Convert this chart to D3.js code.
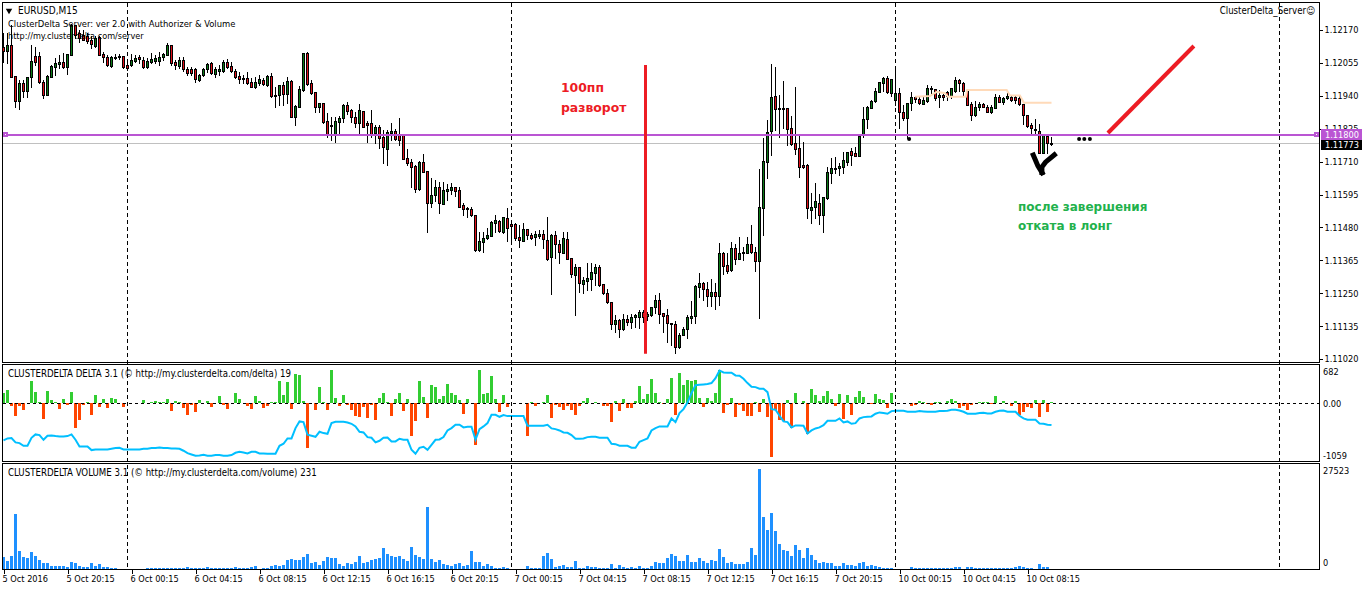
<!DOCTYPE html>
<html><head><meta charset="utf-8">
<script src="https://cdn.jsdelivr.net/npm/d3@7/dist/d3.min.js"></script>
<style>html,body{margin:0;padding:0;background:#fff;overflow:hidden}svg{display:block}text{font-family:"DejaVu Sans Condensed","DejaVu Sans",sans-serif}</style>
</head><body><svg id="c" width="1362" height="590"></svg>
<script>
// Prices are stored in points (1e-5)
const opens=[112111,112097,112118,112009,111922,111985,111957,112006,112079,112079,
111988,111943,112006,112041,112051,112058,112041,112083,112188,112160,
112153,112149,112135,112114,112146,112086,112076,112044,112072,112076,
112079,112048,112048,112062,112076,112065,112041,112058,112062,112062,
112076,112083,112118,112058,112044,112065,112034,112034,112034,111995,
112013,112034,112055,112016,112027,112027,112058,112044,112027,112009,
112002,112002,111988,111971,111985,111995,111978,112009,111943,111943,
111978,111946,111992,111866,111901,111960,112090,111985,111953,111901,
111915,111852,111835,111807,111849,111863,111908,111891,111866,111845,
111887,111845,111845,111810,111831,111796,111754,111810,111817,111803,
111803,111723,111709,111695,111614,111709,111677,111565,111593,111621,
111562,111607,111611,111621,111611,111558,111548,111544,111523,111401,
111429,111443,111450,111495,111502,111464,111513,111492,111492,111446,
111432,111474,111453,111446,111450,111457,111436,111376,111453,111422,
111390,111439,111373,111313,111341,111282,111292,111299,111320,111341,
111282,111250,111219,111143,111157,111125,111159,111150,111166,111166,
111184,111170,111173,111201,111226,111180,111173,111146,111143,111062,
111104,111125,111163,111170,111271,111285,111264,111240,111254,111240,
111390,111348,111331,111408,111369,111390,111390,111422,111394,111362,
111548,111709,111817,111939,111894,111898,111898,111828,111775,111758,
111698,111698,111541,111551,111565,111523,111583,111670,111688,111688,
111691,111709,111747,111740,111730,111807,111859,111898,111922,111953,
111985,112002,111950,111926,111950,111884,111863,111915,111936,111929,
111912,111922,111967,111964,111936,111943,111953,111939,111957,111995,
111985,111957,111912,111873,111901,111912,111901,111884,111898,111936,
111919,111932,111936,111936,111932,111912,111873,111838,111824,111817,
111740,111800,111775];
const closes=[112097,112118,112006,111922,111985,111957,112006,112062,112058,111988,
111943,112009,112044,112055,112058,112041,112086,112188,112153,112142,
112135,112132,112121,112142,112083,112076,112048,112076,112076,112079,
112041,112037,112065,112072,112069,112041,112062,112069,112072,112076,
112086,112118,112055,112048,112065,112034,112020,112020,111999,112013,
112034,112051,112020,112034,112034,112058,112041,112027,112006,111999,
111999,111985,111971,111988,111999,111981,112009,111939,111939,111978,
111946,111992,111866,111905,111964,112090,111981,111950,111901,111915,
111849,111803,111838,111852,111863,111908,111887,111866,111845,111891,
111831,111838,111807,111831,111793,111761,111814,111817,111789,111786,
111719,111705,111691,111614,111709,111674,111565,111593,111621,111565,
111611,111614,111621,111607,111551,111544,111544,111523,111401,111432,
111443,111453,111499,111506,111467,111516,111478,111485,111443,111436,
111474,111453,111443,111457,111457,111439,111369,111453,111422,111394,
111443,111369,111317,111341,111285,111296,111303,111324,111341,111278,
111250,111219,111143,111157,111125,111159,111150,111166,111173,111184,
111166,111177,111201,111226,111177,111170,111146,111143,111062,111104,
111125,111166,111170,111275,111285,111264,111240,111254,111240,111390,
111345,111327,111408,111369,111390,111394,111422,111394,111362,111551,
111712,111814,111936,111894,111898,111894,111824,111772,111754,111691,
111691,111548,111551,111572,111523,111586,111674,111688,111684,111695,
111716,111744,111733,111730,111800,111859,111901,111922,111957,111988,
112002,111953,111999,111950,111884,111863,111915,111936,111929,111915,
111926,111967,111964,111932,111943,111936,111939,111967,111995,111985,
111957,111908,111873,111901,111912,111901,111884,111901,111936,111919,
111932,111939,111926,111926,111912,111873,111835,111828,111821,111740,
111803,111775,111772];
const highs=[112160,112160,112188,112009,111995,111995,112006,112118,112111,112093,
111995,112013,112048,112072,112083,112090,112086,112191,112188,112170,
112170,112160,112149,112149,112149,112093,112083,112079,112086,112086,
112079,112055,112086,112083,112083,112076,112072,112090,112083,112093,
112090,112125,112118,112065,112076,112076,112041,112041,112037,112016,
112037,112055,112058,112041,112048,112065,112069,112058,112034,112023,
112013,112023,112002,112006,112013,112002,112013,112020,111971,111978,
111988,112006,111995,111908,111974,112090,112093,111995,111953,111915,
111915,111880,111866,111866,111870,111912,111919,111894,111884,111912,
111887,111852,111891,111838,111838,111821,111821,111845,111824,111863,
111803,111754,111719,111698,111712,111737,111677,111653,111646,111639,
111639,111632,111635,111621,111621,111565,111551,111551,111523,111464,
111464,111478,111502,111523,111506,111516,111548,111506,111495,111488,
111495,111474,111460,111467,111471,111471,111516,111457,111467,111436,
111464,111464,111373,111352,111341,111306,111355,111355,111352,111348,
111282,111264,111219,111173,111159,111177,111173,111177,111177,111191,
111191,111184,111201,111243,111250,111180,111194,111146,111153,111111,
111132,111173,111222,111278,111320,111289,111289,111299,111285,111425,
111394,111390,111429,111422,111446,111411,111446,111488,111411,111684,
111793,111856,112051,112041,111943,111992,111898,111870,111971,111800,
111779,111702,111600,111635,111597,111586,111691,111723,111726,111705,
111744,111744,111758,111761,111803,111901,111905,111926,111967,111988,
112006,112009,111999,112041,111967,111908,111915,111953,111939,111939,
111939,111978,111974,111964,111960,111953,111957,111967,112006,111999,
111988,111964,111919,111922,111919,111915,111908,111908,111946,111943,
111936,111950,111943,111943,111943,111912,111873,111845,111859,111842,
111803,111803,111796];
const lows=[112058,112055,112006,111901,111894,111936,111936,111971,112048,111985,
111932,111943,112006,112013,112037,112037,112016,112083,112142,112128,
112135,112125,112107,112111,112083,112058,112044,112041,112069,112069,
112037,112030,112044,112058,112055,112037,112037,112055,112055,112048,
112065,112083,112048,112034,112037,112027,112013,112013,111988,111992,
112009,112023,112016,112006,112013,112023,112037,112023,112002,111985,
111985,111981,111971,111967,111978,111978,111974,111936,111901,111908,
111908,111915,111866,111838,111901,111957,111978,111946,111884,111884,
111845,111796,111786,111779,111810,111849,111877,111849,111831,111810,
111831,111779,111796,111775,111758,111705,111698,111786,111786,111768,
111719,111698,111621,111604,111611,111674,111464,111551,111572,111530,
111562,111576,111597,111590,111551,111523,111516,111520,111397,111397,
111394,111439,111450,111464,111464,111460,111432,111436,111436,111411,
111432,111439,111439,111418,111443,111408,111366,111247,111373,111355,
111390,111369,111306,111173,111254,111250,111261,111261,111278,111275,
111247,111215,111125,111115,111097,111122,111139,111129,111132,111129,
111150,111157,111170,111180,111146,111115,111080,111069,111041,111059,
111104,111094,111146,111146,111236,111226,111205,111205,111194,111208,
111317,111320,111327,111352,111369,111366,111390,111390,111327,111163,
111453,111653,111733,111821,111796,111828,111768,111768,111737,111656,
111688,111513,111495,111513,111492,111464,111579,111635,111670,111663,
111670,111698,111698,111730,111730,111796,111828,111898,111919,111953,
111957,111950,111939,111908,111828,111856,111793,111891,111919,111912,
111912,111919,111946,111926,111901,111926,111926,111932,111953,111957,
111943,111908,111856,111870,111891,111901,111884,111880,111898,111919,
111912,111929,111922,111915,111908,111842,111831,111810,111807,111740,
111740,111740,111768];
const deltaBars=[181,242,-60,-242,-60,-121,0,405,206,24,-284,224,60,18,-103,79,-42,194,-448,-302,-42,12,-212,151,-67,79,-85,97,67,0,-67,0,0,0,0,60,-6,24,36,18,24,79,-139,36,24,-85,-212,-30,-157,60,-6,36,-67,6,133,-30,-103,6,188,79,-6,-48,-103,133,30,-85,-48,24,24,405,151,387,-103,532,514,42,-811,0,-121,296,24,-121,605,97,-48,151,-30,
-121,-230,-248,-67,-266,-42,-302,97,188,12,-230,79,188,-139,79,-593,-321,405,115,-266,333,296,79,133,351,188,151,60,-194,79,-6,-756,605,169,188,496,79,-157,151,-67,0,0,0,0,-593,12,-48,0,12,151,-266,-30,-67,-121,-48,-121,-212,-48,42,97,-6,12,0,-48,-48,-339,42,-139,79,-85,-85,42,315,79,169,442,188,12,-24,79,460,-212,551,333,423,405,423,97,
-67,97,42,188,605,-175,-30,97,-248,-30,-139,-230,-230,18,-157,79,-248,-974,-121,-302,-321,60,-448,188,-6,42,-557,260,151,42,133,224,79,-48,169,-284,151,-212,115,224,115,0,-18,169,79,60,-85,188,0,0,0,0,-48,-30,42,24,-12,-30,24,24,6,42,79,42,-85,-48,-121,-30,-6,24,24,24,-12,133,6,42,0,-48,42,-212,-157,-67,-85,60,-248,60,-157,12];
const deltaLine=[-677,-641,-635,-713,-725,-774,-774,-629,-568,-580,-665,-592,-586,-598,-605,-605,-598,-568,-665,-786,-786,-786,-852,-840,-840,-840,-840,-828,-816,-810,-840,-840,-840,-840,-840,-828,-828,-816,-816,-804,-816,-816,-822,-822,-828,-864,-907,-931,-955,-949,-937,-955,-955,-943,-943,-955,-955,-943,-901,-883,-895,-913,-883,-883,-913,-913,-919,-919,-919,-774,-737,-641,-641,-453,-332,-345,-574,-592,-611,-520,-544,-556,-363,-339,-339,-339,-351,
-375,-423,-520,-532,-617,-629,-713,-683,-629,-623,-695,-695,-647,-665,-665,-846,-919,-810,-792,-846,-756,-665,-659,-617,-496,-453,-393,-393,-441,-429,-429,-665,-472,-423,-363,-212,-212,-248,-218,-236,-236,-236,-236,-236,-411,-411,-411,-411,-411,-393,-459,-472,-496,-532,-538,-580,-647,-647,-641,-617,-611,-611,-629,-629,-629,-737,-744,-774,-774,-774,-810,-810,-701,-671,-641,-496,-453,-423,-423,-423,-278,-345,-181,-109,12,181,326,332,
339,345,363,453,592,556,550,550,502,496,441,363,296,290,260,260,199,-109,-121,-230,-332,-345,-441,-405,-405,-411,-550,-496,-459,-441,-399,-320,-320,-320,-278,-351,-332,-375,-363,-278,-254,-248,-242,-193,-169,-181,-193,-145,-139,-139,-139,-157,-157,-157,-145,-151,-157,-157,-157,-145,-145,-139,-121,-121,-133,-157,-193,-193,-193,-181,-175,-187,-187,-157,-139,-133,-157,-157,-157,-230,-278,-302,-302,-302,-369,-375,-393,-399];
const volumes=[3485,2384,3760,15039,5135,3485,3210,4860,3760,2659,1834,1834,1009,1009,1009,1009,734,2109,1834,1009,734,734,1834,1009,1559,734,734,459,459,183,183,0,0,0,183,183,367,275,275,275,275,275,459,459,459,459,734,275,459,275,275,550,275,275,275,459,275,275,734,459,459,459,734,1009,183,459,459,1009,1284,1009,1284,2659,2934,2659,2659,3485,4310,1834,2109,1284,2384,3485,3210,3210,1559,1009,1834,1559,2109,3760,1834,2109,2659,2934,3210,5961,4310,3760,3485,3760,2934,2384,6236,4035,3485,2934,16965,2934,2109,2659,1559,1284,1009,1559,1834,1009,1284,5135,2109,2109,1009,1559,1009,459,459,734,459,0,0,0,0,1009,275,275,275,3760,4585,2934,734,1009,1284,734,734,2384,275,275,1009,734,734,459,275,459,1559,459,1284,734,459,734,275,1009,459,459,1009,2109,1834,1834,3210,4310,3760,2384,2384,4035,2109,2109,3210,2384,1834,2659,2384,5685,3485,1834,2109,1559,1559,1559,2109,5961,4035,27523,14214,10637,15314,10362,7061,5410,5135,3760,6786,5410,3210,5961,4035,2659,1834,2109,1834,1834,1009,1009,1834,1284,1284,1009,1834,2109,1009,1284,1009,734,459,459,459,0,0,0,0,734,275,275,275,459,275,275,275,459,459,459,734,734,183,734,734,459,275,275,275,275,459,275,275,275,275,734,1009,734,459,459,183,1559,734,734,183];

const priceTicks=[112170,112055,111940,111825,111710,111595,111480,111365,111250,111135,111020];
const timeTickBars=[0,16,32,48,64,80,96,112,128,144,160,176,192,208,224,240,256];
const timeLabels=["5 Oct 2016","5 Oct 20:15","6 Oct 00:15","6 Oct 04:15","6 Oct 08:15","6 Oct 12:15","6 Oct 16:15","6 Oct 20:15","7 Oct 00:15","7 Oct 04:15","7 Oct 08:15","7 Oct 12:15","7 Oct 16:15","7 Oct 20:15","10 Oct 00:15","10 Oct 04:15","10 Oct 08:15"];
const separatorBars=[31,127,223,319];
const resistancePrice=111803, resistanceLabel="1.11800", bidPrice=111773, bidLabel="1.11773";
const levelBars=[227.9,231.6,233.3,235.4,236.1,240.6,240.9,250.8,251.6,254.1,255.1,262];
const levelPrices=[111937,111939,111954,111949,111937,111937,111960,111960,111941,111941,111916,111916];
const reversalBars=[160.5,160.5], reversalPrices=[112048,111038];
const arrowBars=[276.1,297.6], arrowPrices=[111810,112114];
const glyphLeftBars=[257.2,258.6,260], glyphLeftPrices=[111741,111695,111663];
const glyphRightBars=[263.2,260.5,259.6,259.6], glyphRightPrices=[111739,111708,111691,111663];
const dotBars=[226.4,268.9,270.2,271.6], dotPrices=[111789,111789,111789,111789];

const L=2.5,R=1319.5;
const svg=d3.select("#c");
const x=d3.scaleLinear().domain([0,262]).range([3.5,1051.5]);
const yP=d3.scaleLinear().domain([111020,112170]).range([359,30]);
const yD=d3.scaleLinear().domain([-1059,682]).range([461.5,365.5]);
const yV=d3.scaleLinear().domain([0,27523]).range([569.5,468.5]);
const snap=v=>Math.round(v)+0.5;
const bars=d3.range(opens.length);
const axisFont=9.15;

// delta pane
svg.append("g").attr("shape-rendering","crispEdges").selectAll("rect").data(bars).join("rect")
 .attr("x",i=>x(i)-1.5).attr("width",3)
 .attr("y",i=>Math.round(Math.min(yD(deltaBars[i]),yD(0))))
 .attr("height",i=>Math.round(Math.abs(yD(deltaBars[i])-yD(0))))
 .attr("fill",i=>deltaBars[i]>=0?"#32cd32":"#ff4500");
svg.append("line").attr("x1",L).attr("x2",R).attr("y1",snap(yD(0))).attr("y2",snap(yD(0)))
 .attr("stroke","#000").attr("stroke-dasharray","3,3").attr("shape-rendering","crispEdges");
svg.append("path").datum(bars).attr("fill","none").attr("stroke","#00bfff").attr("stroke-width",2)
 .attr("d",d3.line().x(i=>x(i)).y(i=>yD(deltaLine[i])));

// volume pane
svg.append("g").attr("shape-rendering","crispEdges").selectAll("rect").data(bars).join("rect")
 .attr("x",i=>x(i)-1.5).attr("width",3)
 .attr("y",i=>Math.round(yV(volumes[i]))).attr("height",i=>Math.round(yV(0)-yV(volumes[i])))
 .attr("fill","#1e90ff");

// separators
svg.append("g").selectAll("line").data(separatorBars).join("line")
 .attr("x1",d=>x(d)).attr("x2",d=>x(d)).attr("y1",3).attr("y2",570)
 .attr("stroke","#000").attr("stroke-dasharray","4,3").attr("shape-rendering","crispEdges");

// horizontal price lines
svg.append("line").attr("x1",L).attr("x2",R).attr("y1",yP(bidPrice)).attr("y2",yP(bidPrice))
 .attr("stroke","#c0c0c0").attr("shape-rendering","crispEdges");

// candles
const cg=svg.append("g").attr("shape-rendering","crispEdges");
cg.selectAll("line").data(bars).join("line")
 .attr("x1",i=>x(i)).attr("x2",i=>x(i))
 .attr("y1",i=>Math.round(yP(highs[i]))).attr("y2",i=>Math.round(yP(lows[i]))+1).attr("stroke","#000");
cg.selectAll("rect").data(bars).join("rect")
 .attr("x",i=>x(i)-1).attr("width",2)
 .attr("y",i=>snap(yP(Math.max(opens[i],closes[i]))))
 .attr("height",i=>Math.max(1,Math.round(yP(Math.min(opens[i],closes[i]))-yP(Math.max(opens[i],closes[i])))))
 .attr("fill",i=>closes[i]>=opens[i]?"#0b7a17":"#e0101a").attr("stroke","#000");

// level (peach)
svg.append("path").datum(levelBars).attr("fill","none").attr("stroke","#ffdab9").attr("stroke-width",2)
 .attr("d",d3.line().x(d=>x(d)).y((d,i)=>yP(levelPrices[i])));

// purple level with anchors
svg.append("line").attr("x1",L).attr("x2",R).attr("y1",yP(resistancePrice)).attr("y2",yP(resistancePrice))
 .attr("stroke","#ba55d3").attr("stroke-width",2).attr("shape-rendering","crispEdges");
svg.append("g").selectAll("rect").data([5,1316]).join("rect")
 .attr("x",d=>d-1.5).attr("y",yP(resistancePrice)-1.5).attr("width",3).attr("height",3)
 .attr("fill","#fff").attr("stroke","#ba55d3").attr("stroke-width",2).attr("shape-rendering","crispEdges");

// annotations
const ln=(b,p)=>d3.line().x(d=>x(d)).y((d,i)=>yP(p[i]))(b);
svg.append("path").attr("d",ln(reversalBars,reversalPrices)).attr("stroke","#ed1c24").attr("stroke-width",3).attr("fill","none");
svg.append("path").attr("d",ln(arrowBars,arrowPrices)).attr("stroke","#ed1c24").attr("stroke-width",4).attr("fill","none");
svg.append("path").attr("d",ln(glyphLeftBars,glyphLeftPrices)).attr("stroke","#000").attr("stroke-width",5).attr("fill","none");
svg.append("path").attr("d",ln(glyphRightBars,glyphRightPrices)).attr("stroke","#000").attr("stroke-width",5).attr("fill","none");
svg.append("g").selectAll("circle").data(dotBars).join("circle")
 .attr("cx",d=>x(d)).attr("cy",(d,i)=>yP(dotPrices[i])).attr("r",2).attr("fill","#000");
const note=(t,xp,yp,c,fs)=>svg.append("text").attr("x",xp).attr("y",yp).attr("fill",c)
 .style("font-family","'DejaVu Sans',sans-serif").style("font-weight","bold").style("font-size",fs+"px").text(t);
note("100пп",561,92,"#ed1c24",12.4);
note("разворот",561,112,"#ed1c24",12.4);
note("после завершения",1018,211,"#22b14c",12);
note("отката в лонг",1018,230,"#22b14c",12);

// frames
const frames=[[2.5,362.5],[364.5,461.5],[463.5,569.5]];
svg.append("g").selectAll("rect").data(frames).join("rect")
 .attr("x",L).attr("width",R-L).attr("y",d=>d[0]).attr("height",d=>d[1]-d[0])
 .attr("fill","none").attr("stroke","#000").attr("shape-rendering","crispEdges");

// axes
const axP=d3.axisRight(yP).tickValues(priceTicks).tickFormat(d=>(d/1e5).toFixed(5)).tickSize(3).tickPadding(2);
const gP=svg.append("g").attr("transform",`translate(${R},0)`).call(axP);
gP.select(".domain").remove();
gP.selectAll("line").attr("stroke","#000").attr("shape-rendering","crispEdges");
gP.selectAll("text").attr("fill","#000").style("font-size",axisFont+"px").style("font-family",null);

const axT=d3.axisBottom(x).tickValues(timeTickBars).tickFormat((d,i)=>timeLabels[i]).tickSize(4).tickPadding(2);
const gT=svg.append("g").attr("transform","translate(0,569.5)").call(axT);
gT.select(".domain").remove();
gT.selectAll("line").attr("stroke","#000").attr("shape-rendering","crispEdges");
gT.selectAll("text").attr("fill","#000").attr("text-anchor","start").attr("dx",-1.5).style("font-size",axisFont+"px").style("font-family",null);

// price boxes
[[resistanceLabel,"#ba55d3",129,11,138.2],[bidLabel,"#000",140,10,147.8]].forEach(([t,c,by,bh,ty])=>{
  svg.append("rect").attr("x",1321).attr("y",by).attr("width",41).attr("height",bh).attr("fill",c).attr("shape-rendering","crispEdges");
  svg.append("text").attr("x",1325).attr("y",ty).attr("fill","#fff").style("font-size",axisFont+"px").text(t);
});

// text labels
const lab=(t,xp,yp,fs)=>svg.append("text").attr("x",xp).attr("y",yp).attr("fill","#000").style("font-size",(fs||axisFont)+"px").text(t);
lab("682",1323,375);
lab("0.00",1323,407);
lab("-1059",1323,458.5);
lab("27523",1323,473.5);
lab("0",1323,566);
lab("EURUSD,M15",18,14,10);
lab("ClusterDelta Server: ver 2.0 with Authorizer & Volume",8,27,9.35);
lab("http://my.clusterdelta.com/server",8,39,9.05);
lab("CLUSTERDELTA DELTA 3.1 (© http://my.clusterdelta.com/delta) 19",8,376.5,9.6);
lab("CLUSTERDELTA VOLUME 3.1 (© http://my.clusterdelta.com/volume) 231",8,475.5,9.6);
svg.append("text").attr("x",1315).attr("y",14).attr("text-anchor","end").attr("fill","#000").style("font-size","9.6px").text("ClusterDelta_Server☺");
svg.append("path").attr("d",d3.symbol().type(d3.symbolTriangle).size(18)()).attr("transform","translate(9,10.5) rotate(180)").attr("fill","#000");
</script></body></html>
